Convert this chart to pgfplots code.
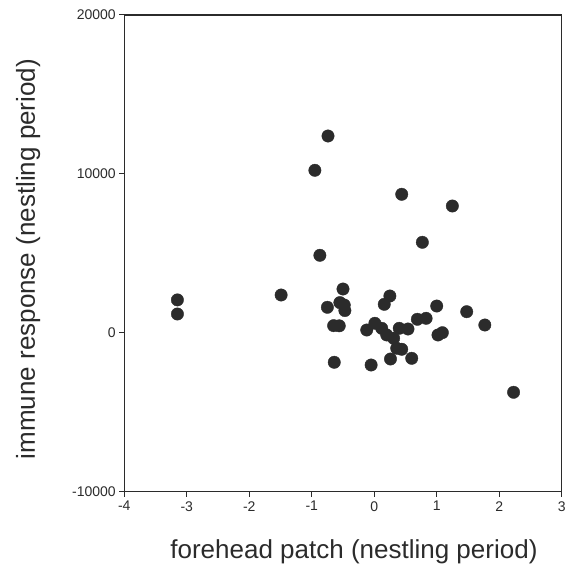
\documentclass[border=0pt]{standalone}
\usepackage{fontspec}
\setmainfont{Liberation Sans}
\usepackage{pgfplots}
\pgfplotsset{compat=1.18}
\definecolor{ink}{HTML}{2B2B2B}

\begin{document}
\begin{tikzpicture}
\begin{axis}[
    at={(0,0)}, anchor=south west,
    scale only axis,
    width=437.4pt, height=476.7pt,
    xmin=-4, xmax=3, ymin=-10000, ymax=20000,
    xtick={-4,-3,...,3},
    ytick={-10000,0,10000,20000},
    scaled y ticks=false,
    axis line style={ink, line width=1.3pt},
    axis x line*=bottom, axis y line*=left,
    tick style={ink, line width=1pt},
    tick align=outside,
    major tick length=5pt,
    tick label style={font=\fontsize{14}{16}\selectfont, text=ink},
    /pgf/number format/assume math mode=true,
    /pgf/number format/set thousands separator={},
    xticklabel style={yshift=-1pt},
    xlabel={forehead patch (nestling period)},
    ylabel={immune response (nestling period)},
    label style={font=\fontsize{26}{30}\selectfont, text=ink},
    xlabel style={at={(axis description cs:0.525,-0.125)}, anchor=center},
    ylabel style={at={(axis description cs:-0.22,0.488)}, anchor=center},
    clip=false,
]
\draw[ink, line width=1.3pt] (axis cs:-4,20000) -- (axis cs:3,20000) -- (axis cs:3,-10000);
\addplot[only marks, mark=*, mark size=6.2pt, color=ink, mark options={fill=ink, draw=ink}]
table {
x y
-0.74 12385
-0.95 10226
0.44 8716
1.25 7980
0.77 5695
-0.87 4877
-3.15 2070
-3.15 1183
-1.49 2378
-0.50 2756
-0.75 1605
-0.55 1900
-0.48 1750
-0.47 1400
0.25 2316
0.16 1793
1.00 1686
1.48 1328
1.77 490
-0.65 450
-0.56 440
-0.12 176
0.01 598
0.12 283
0.20 -138
0.31 -346
0.40 283
0.54 239
0.69 850
0.83 912
1.02 -138
1.09 6
0.36 -975
0.44 -1038
0.26 -1649
0.60 -1605
-0.64 -1856
-0.05 -2026
2.23 -3744
};
\end{axis}
\pgfresetboundingbox
\path[use as bounding box] (-124.3pt,-80.3pt) rectangle (441.7pt,491.7pt);
\end{tikzpicture}
\end{document}
